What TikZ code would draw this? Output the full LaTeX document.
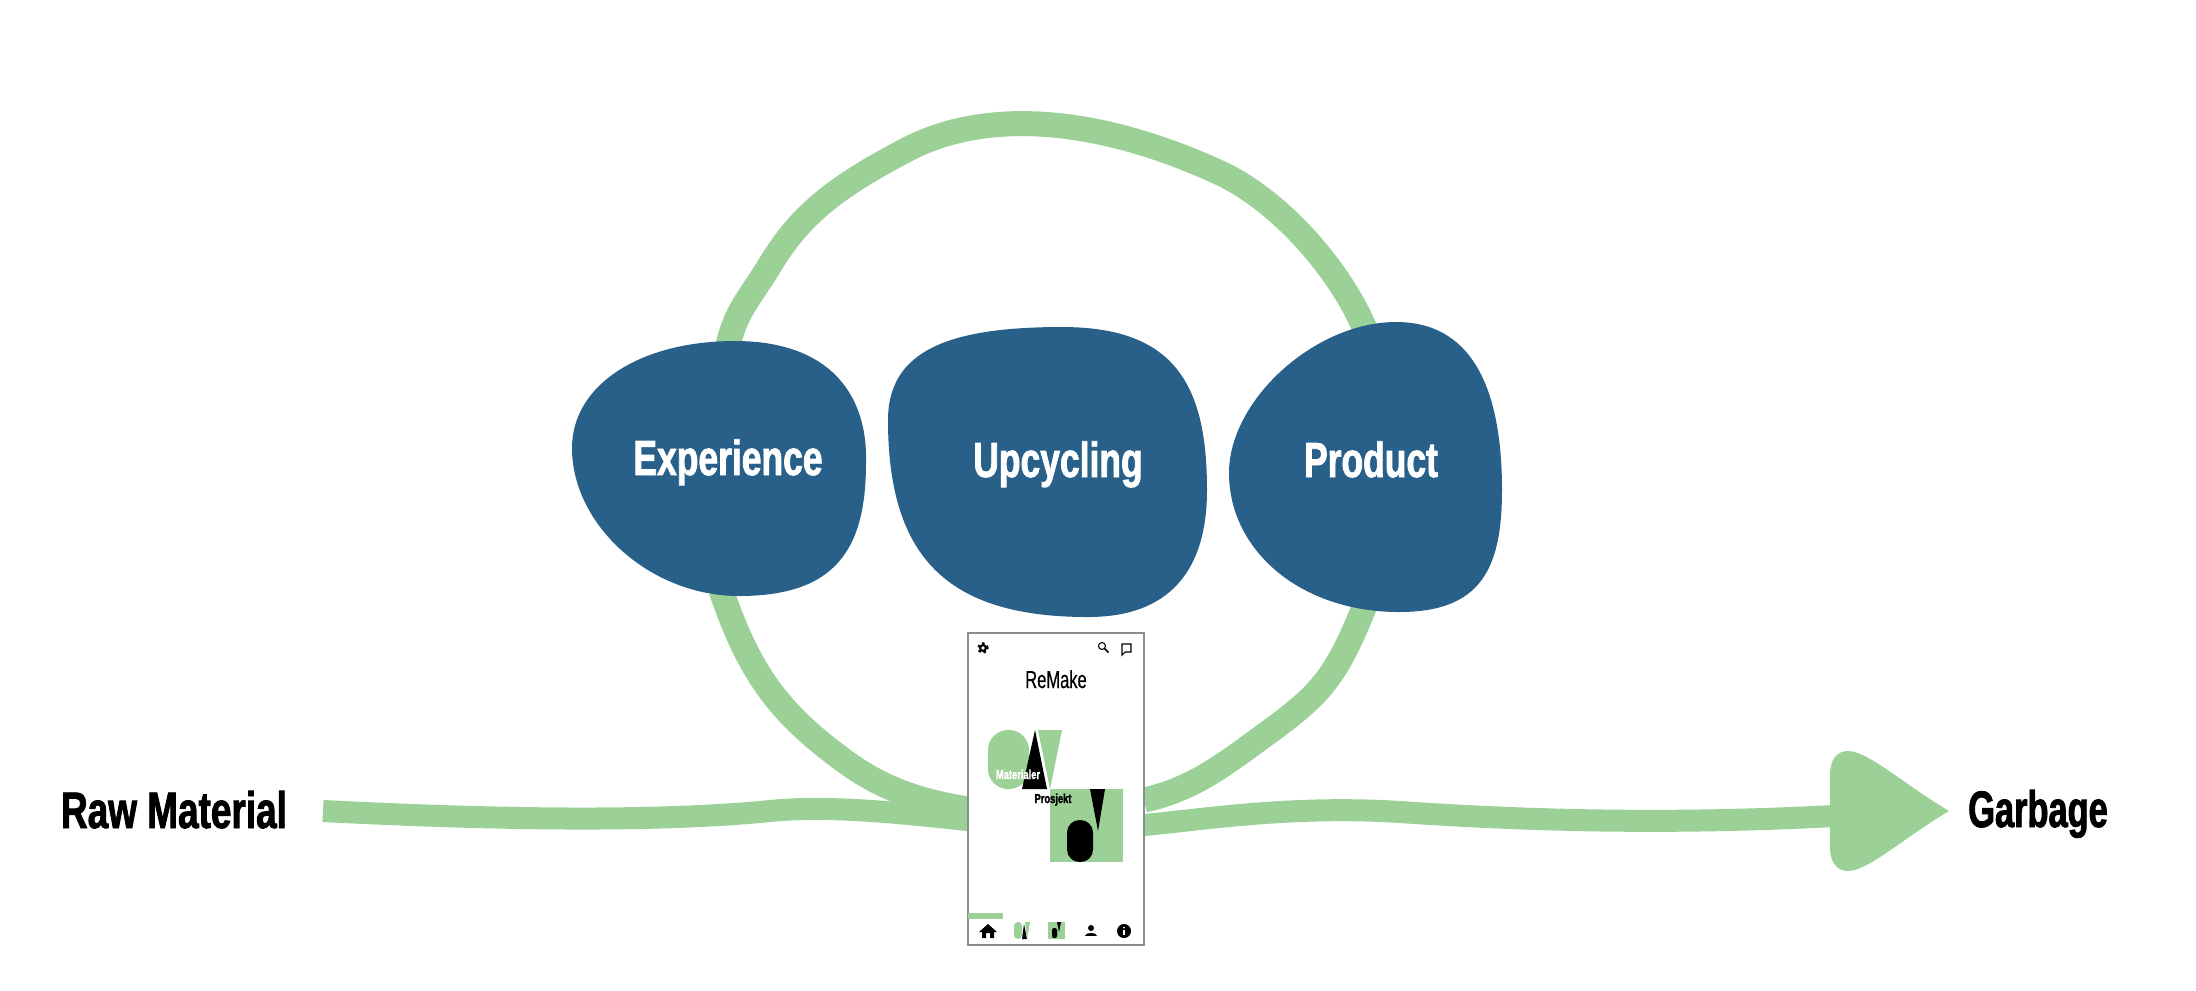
\documentclass[tikz,border=0pt]{standalone}
\usepackage{fontspec}
\usepackage{tikz}
\usetikzlibrary{calc}
\newfontfamily\slimfont[FakeStretch=0.72,FakeBold=0.4,BoldFeatures={FakeBold=1.6}]{Liberation Sans}
\newfontfamily\slimmerfont[FakeStretch=0.67,FakeBold=0.4,BoldFeatures={FakeBold=1.6}]{Liberation Sans}
\definecolor{flowgreen}{HTML}{9BD197}
\definecolor{blobblue}{HTML}{28608A}
\tikzset{
	flow/.style={draw=flowgreen,line width=0.22cm},
	loopflow/.style={draw=flowgreen,line width=0.25cm},
	blob/.style={fill=blobblue},
	bigtext/.style={font=\slimfont\bfseries\fontsize{14.6}{16}\selectfont,text=black,anchor=base,inner sep=0pt},
	blobtext/.style={font=\slimfont\bfseries\fontsize{14}{16}\selectfont,text=white,anchor=base,inner sep=0pt},
	smalltext/.style={font=\slimfont\bfseries\fontsize{3.7}{4}\selectfont,anchor=base,inner sep=0pt},
	phonebox/.style={draw=black!45,line width=0.4pt,fill=white,minimum width=1.76cm,minimum height=3.12cm,inner sep=0pt,outer sep=0pt},
}
\begin{document}
\begin{tikzpicture}[x=0.01cm,y=-0.01cm]
	\useasboundingbox (0,0) rectangle (2196,990);
	\coordinate (rawstart) at (323,811);
	\coordinate (phoneleft) at (968,820);
	\coordinate (phoneright) at (1144,825);
	\coordinate (headstart) at (1834,816);
	\coordinate (expup) at (728,345);
	\coordinate (expdown) at (721,590);
	\coordinate (produp) at (1365,329);
	\coordinate (proddown) at (1365,605);
	\coordinate (loopleft) at (968,809);
	\coordinate (loopright) at (1144,800);
	% line through the middle
	\draw [flow] (rawstart) .. controls (500,820) and (660,822) .. (770,811) .. controls (830,805) and (900,813) .. (phoneleft);
	\draw [flow] (phoneright) .. controls (1200,820) and (1290,805) .. (1400,812) .. controls (1560,823) and (1700,823) .. (headstart);
	\fill [flowgreen] (1830,775) .. controls (1830,758) and (1838,751) .. (1848,751) .. controls (1868,751) and (1905,785) .. (1949,811) .. controls (1905,837) and (1868,871) .. (1848,871) .. controls (1838,871) and (1830,864) .. (1830,847) -- cycle;
	% the loop
	\draw [loopflow] (expup) .. controls (737,310) and (745,305) .. (770,265) .. controls (800,215) and (835,187) .. (910,148) .. controls (990,108) and (1100,118) .. (1218,172) .. controls (1280,200) and (1340,270) .. (produp);
	\draw [loopflow] (expdown) .. controls (750,675) and (780,715) .. (850,765) .. controls (890,793) and (930,803) .. (loopleft);
	\draw [loopflow] (proddown) .. controls (1335,680) and (1320,695) .. (1262,737) .. controls (1220,768) and (1190,790) .. (loopright);
	% blobs
	\fill [blob] (735,341) .. controls (830,341) and (868,395) .. (866,463) .. controls (866,550) and (835,596) .. (739,596) .. controls (650,596) and (572,525) .. (572,448) .. controls (572,385) and (640,341) .. cycle;
	\fill [blob] (1062,327) .. controls (1175,327) and (1207,385) .. (1207,490) .. controls (1207,570) and (1170,617) .. (1088,617) .. controls (950,617) and (888,560) .. (888,420) .. controls (888,350) and (950,327) .. cycle;
	\fill [blob] (1396,322) .. controls (1470,322) and (1502,385) .. (1502,490) .. controls (1502,570) and (1480,612) .. (1399,612) .. controls (1300,612) and (1229,550) .. (1229,473) .. controls (1229,400) and (1315,322) .. cycle;
	\node [blobtext] (experience) at (728,475) {Experience};
	\node [blobtext] (upcycling) at (1058,477) {Upcycling};
	\node [blobtext] (product) at (1371,477) {Product};
	\node [bigtext] (raw) at (174,828) {Raw Material};
	\node [bigtext,font=\slimmerfont\bfseries\fontsize{14.6}{16}\selectfont] (garbage) at (2038,827) {Garbage};
	% phone
	\node [phonebox] (phone) at (1056,789) {};
	\node [anchor=base,inner sep=0pt,font=\slimmerfont\fontsize{7}{8}\selectfont] (remake) at (1056,688) {ReMake};
	\fill [flowgreen,rounded corners=0.2cm] (988,730) rectangle (1029,789);
	\fill [black] (1035,730) -- (1047,789) -- (1022,789) -- cycle;
	\fill [flowgreen] (1038,730) -- (1062,730) -- (1050,789) -- cycle;
	\fill [flowgreen] (1050,789) rectangle (1123,862);
	\fill [black] (1090,789) -- (1105,789) -- (1098,831) -- cycle;
	\fill [black,rounded corners=0.125cm] (1067,820) rectangle (1093,862);
	\node [smalltext,text=white] (materialer) at (1018,779) {Materialer};
	\node [smalltext,text=black] (prosjekt) at (1053,803) {Prosjekt};
	\fill [flowgreen] (968,913) rectangle (1003,919);
	% top icons
	\fill [black] (983,648) circle (0.04cm);
	\draw [black,line width=0.025cm,dash pattern=on 0.025cm off 0.028cm] (983,648) circle (0.045cm);
	\fill [white] (983,648) circle (0.018cm);
	\draw [black,line width=0.3pt] (1102,646) circle (0.035cm);
	\draw [black,line width=0.5pt] (1104.5,648.5) -- (1108.5,652.5);
	\draw [black,line width=0.3pt] (1122,644) -- (1131,644) -- (1131,652) -- (1125,652) -- (1122,655) -- cycle;
	% bottom icons
	\fill [black] (988,924) -- (997,932) -- (994,932) -- (994,938) -- (990,938) -- (990,933) -- (986,933) -- (986,938) -- (982,938) -- (982,932) -- (979,932) -- cycle;
	\fill [flowgreen,rounded corners=0.04cm] (1014,922) rectangle (1022,939);
	\fill [black] (1024,924) -- (1027,939) -- (1022,939) -- cycle;
	\fill [flowgreen] (1025,922) -- (1030,922) -- (1027,939) -- cycle;
	\fill [flowgreen] (1048,922) rectangle (1065,939);
	\fill [black,rounded corners=0.02cm] (1052,928) rectangle (1057,938);
	\fill [black] (1057,922) -- (1061,922) -- (1059,932) -- cycle;
	\fill [black] (1091,928) circle (0.03cm);
	\fill [black] (1085,936) .. controls (1085,932) and (1097,932) .. (1097,936) -- cycle;
	\fill [black] (1124,931) circle (0.07cm);
	\fill [white] (1123,930) rectangle (1125,935);
	\fill [white] (1124,927.5) circle (0.01cm);
\end{tikzpicture}
\end{document}
